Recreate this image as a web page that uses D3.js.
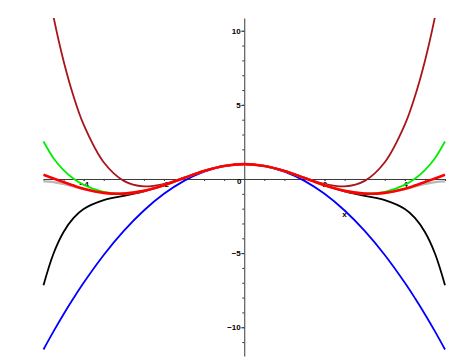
<!DOCTYPE html>
<html>
<head>
<meta charset="utf-8">
<script src="https://cdn.jsdelivr.net/npm/d3@7"></script>
<style>
  body { margin: 0; background: #fff; }
  svg { display: block; }
  .axis text { font-family: "Liberation Sans", Arial, sans-serif; font-size: 8px; font-weight: bold; fill: #000; }
  .axis path, .axis line { stroke: #3a3a3a; }
</style>
</head>
<body>
<svg width="468" height="360"></svg>
<script>
// x positions where the curves were read
let xs = [-5, -4.75, -4.5, -4.25, -4, -3.5, -3, -2.5, -2, -1.5, -1, -0.5, 0,
          0.5, 1, 1.5, 2, 2.5, 3, 3.5, 4, 4.25, 4.5, 4.75, 5];

// cos(x) - red
let cosVals = [0.2837, 0.0376, -0.2108, -0.4461, -0.6536, -0.9365, -0.9900, -0.8011, -0.4161, 0.0707, 0.5403, 0.8776, 1,
               0.8776, 0.5403, 0.0707, -0.4161, -0.8011, -0.9900, -0.9365, -0.6536, -0.4461, -0.2108, 0.0376, 0.2837];
// order 2 - blue
let t2Vals = [-11.5, -10.2813, -9.125, -8.0313, -7, -5.125, -3.5, -2.125, -1, -0.125, 0.5, 0.875, 1,
              0.875, 0.5, -0.125, -1, -2.125, -3.5, -5.125, -7, -8.0313, -9.125, -10.2813, -11.5];
// order 4 - dark red
let t4Vals = [14.5417, 10.9298, 7.9609, 5.5626, 3.6667, 1.1276, -0.125, -0.4974, -0.3333, 0.0859, 0.5417, 0.8776, 1,
              0.8776, 0.5417, 0.0859, -0.3333, -0.4974, -0.125, 1.1276, 3.6667, 5.5626, 7.9609, 10.9298, 14.5417];
// order 6 - black
let t6Vals = [-7.1597, -5.0227, -3.5721, -2.6221, -2.0222, -1.4256, -1.1375, -0.8365, -0.4222, 0.0701, 0.5403, 0.8776, 1,
              0.8776, 0.5403, 0.0701, -0.4222, -0.8365, -1.1375, -1.4256, -2.0222, -2.6221, -3.5721, -5.0227, -7.1597];
// order 8 - green
let t8Vals = [2.5284, 1.4046, 0.5983, 0.0179, -0.3968, -0.8671, -0.9748, -0.7987, -0.4159, 0.0707, 0.5403, 0.8776, 1,
              0.8776, 0.5403, 0.0707, -0.4159, -0.7987, -0.9748, -0.8671, -0.3968, 0.0179, 0.5983, 1.4046, 2.5284];
// order 10 - grey
let t10Vals = [-0.1627, -0.2067, -0.3400, -0.5119, -0.6858, -0.9431, -0.9911, -0.8013, -0.4162, 0.0707, 0.5403, 0.8776, 1,
               0.8776, 0.5403, 0.0707, -0.4162, -0.8013, -0.9911, -0.9431, -0.6858, -0.5119, -0.3400, -0.2067, -0.1627];

let xMajorTicks = [-4, -2, 2, 4];
let xMinorTicks = [-5, -4.5, -4, -3.5, -3, -2.5, -2, -1.5, -1, -0.5, 0.5, 1, 1.5, 2, 2.5, 3, 3.5, 4, 4.5, 5];
let yMajorTicks = [-10, -5, 5, 10];
let yMinorTicks = [-11, -10, -9, -8, -7, -6, -5, -4, -3, -2, -1, 1, 2, 3, 4, 5, 6, 7, 8, 9, 10];

// drawing order as in the original (red on top)
let curves = [
    {vals: t2Vals, color: "#0000ff", width: 1.8},
    {vals: t4Vals, color: "#a8161c", width: 1.8},
    {vals: t6Vals, color: "#000000", width: 1.8},
    {vals: t8Vals, color: "#00ee00", width: 1.8},
    {vals: t10Vals, color: "#b8b8b8", width: 2.2},
    {vals: cosVals, color: "#ff0000", width: 2.6}
];

var svg = d3.select("svg");

var x = d3.scaleLinear().domain([-5, 5]).range([43.5, 445]);
var y = d3.scaleLinear().domain([-11.94, 10.86]).range([356, 18]);

svg.append("defs").append("clipPath")
    .attr("id", "plotClip")
    .append("rect")
    .attr("x", 30).attr("y", y(10.86))
    .attr("width", 430).attr("height", y(-11.94) - y(10.86));

// axes
svg.append("g")
    .attr("class", "axis")
    .attr("transform", `translate(0,${y(0)})`)
    .call(d3.axisBottom(x).tickValues(xMinorTicks).tickSize(2).tickSizeOuter(0).tickFormat(""));
svg.append("g")
    .attr("class", "axis")
    .attr("transform", `translate(0,${y(0)})`)
    .call(d3.axisBottom(x).tickValues(xMajorTicks).tickSize(2).tickPadding(0).tickSizeOuter(0))
    .call(g => g.select(".domain").remove());

svg.append("g")
    .attr("class", "axis")
    .attr("transform", `translate(${x(0)},0)`)
    .call(d3.axisLeft(y).tickValues(yMinorTicks).tickSize(2).tickSizeOuter(0).tickFormat(""));
svg.append("g")
    .attr("class", "axis")
    .attr("transform", `translate(${x(0)},0)`)
    .call(d3.axisLeft(y).tickValues(yMajorTicks).tickSize(3).tickPadding(0.5).tickSizeOuter(0))
    .call(g => g.select(".domain").remove());

// the lone "0" under the origin
svg.append("text")
    .attr("class", "axis")
    .attr("x", x(0) - 5)
    .attr("y", y(0) + 5.5)
    .attr("text-anchor", "middle")
    .style("font-family", "Liberation Sans, Arial, sans-serif")
    .style("font-size", "8px")
    .style("font-weight", "bold")
    .text("0");

// curves
var line = d3.line()
    .x((d, i) => x(xs[i]))
    .y(d => y(d))
    .curve(d3.curveCatmullRom.alpha(0.5));

var plot = svg.append("g").attr("clip-path", "url(#plotClip)");

plot.selectAll("path.curve")
    .data(curves)
    .enter()
    .append("path")
    .attr("class", "curve")
    .attr("fill", "none")
    .attr("stroke", d => d.color)
    .attr("stroke-width", d => d.width)
    .attr("stroke-linejoin", "round")
    .attr("d", d => line(d.vals));

// stray axis label
svg.append("text")
    .attr("x", 344.5)
    .attr("y", 217)
    .attr("text-anchor", "middle")
    .style("font-family", "Liberation Sans, Arial, sans-serif")
    .style("font-size", "8px")
    .style("font-weight", "bold")
    .text("x");
</script>
</body>
</html>
